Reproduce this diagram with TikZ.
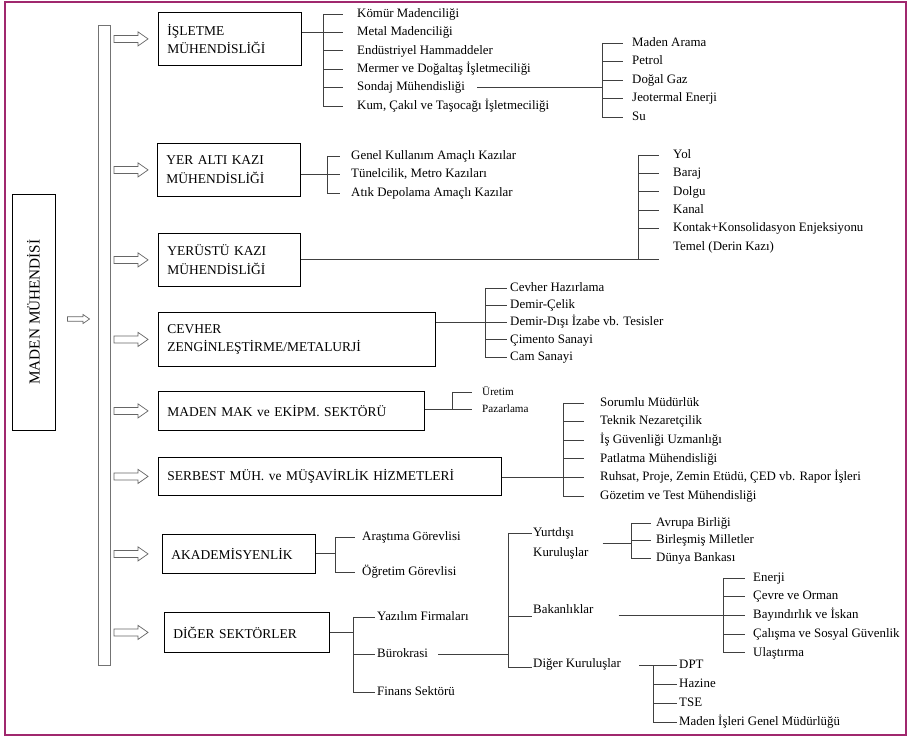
\documentclass[tikz,border=0pt]{standalone}
\usepackage{fontspec}
\setmainfont{Liberation Serif}
\usepackage{xcolor}
\usepackage{tikz}
\usetikzlibrary{positioning,calc}

\definecolor{framecol}{RGB}{160,40,110}
\tikzset{
  box/.style={draw=black, line width=0.7pt, inner xsep=0.27cm, align=left, anchor=north west, font=\fontsize{11.5}{16}\selectfont},
  item/.style={anchor=west, inner xsep=0pt, inner ysep=1pt, text height=8pt, text depth=2.5pt, font=\fontsize{11}{17}\selectfont},
  tree/.style={draw=black!75, line width=0.7pt},
  arrowline/.style={draw=black!60, fill=white, line width=0.6pt},
  pics/hollowarrow/.style={code={\draw[arrowline] (0,-3.5) -- (24,-3.5) -- (24,-7) -- (34,0) -- (24,7) -- (24,3.5) -- (0,3.5) -- cycle;}}
}

\begin{document}
\begin{tikzpicture}[x=0.03cm,y=-0.03cm]
\useasboundingbox (0,0) rectangle (911,739);
\draw[framecol, line width=1.8pt] (5,2) rectangle (906,735);

% Maden muhendisi
\node[draw, line width=0.7pt, rotate=90, minimum width=7.08cm, minimum height=1.29cm, font=\fontsize{13}{15}\selectfont] (maden) at (33.5,312) {MADEN MÜHENDİSİ};
\pic[scale=0.65] at ($(maden.south)+(12,7)$) {hollowarrow};
\node[draw=black!55, line width=0.9pt, minimum width=0.36cm, minimum height=19.2cm, anchor=north west, inner sep=0pt] (bar) at (98,25) {};

% Alanlar
\node[box, minimum width=4.29cm, minimum height=1.59cm, text width=3.75cm] (isletme) at (158,12) {İŞLETME\\MÜHENDİSLİĞİ};
\node[box, minimum width=4.29cm, minimum height=1.59cm, text width=3.75cm] (yeralti) at (157,143) {YER ALTI KAZI\\MÜHENDİSLİĞİ};
\node[box, minimum width=4.26cm, minimum height=1.59cm, text width=3.72cm] (yerustu) at (158,233) {YERÜSTÜ KAZI\\MÜHENDİSLİĞİ};
\node[box, minimum width=8.31cm, minimum height=1.62cm, text width=7.77cm] (cevher) at (158,312) {CEVHER\\ZENGİNLEŞTİRME/METALURJİ};
\node[box, minimum width=7.98cm, minimum height=1.17cm, text width=7.44cm] (makine) at (158,391) {MADEN MAK ve EKİPM. SEKTÖRÜ};
\node[box, minimum width=10.29cm, minimum height=1.14cm, text width=9.75cm] (serbest) at (158,457) {SERBEST MÜH. ve MÜŞAVİRLİK HİZMETLERİ};
\node[box, minimum width=4.59cm, minimum height=1.17cm, text width=4.05cm] (akademi) at (162,534) {AKADEMİSYENLİK};
\node[box, minimum width=4.95cm, minimum height=1.2cm, text width=4.41cm] (diger) at (164,612) {DİĞER SEKTÖRLER};
\foreach \b in {isletme,yeralti,yerustu,cevher,makine,serbest,akademi,diger}
    \pic at ($(bar.east |- \b.west)+(3,0)$) {hollowarrow};

% Isletme
\foreach \t [count=\i] in {Kömür Madenciliği, Metal Madenciliği, Endüstriyel Hammaddeler, Mermer ve Doğaltaş İşletmeciliği, Sondaj Mühendisliği, {Kum, Çakıl ve Taşocağı İşletmeciliği}}
    \node[item] (isl\i) at (357,{14+18.4*(\i-1)}) {\t};
\foreach \i in {1,...,6}
    \draw[tree] ($(isl\i.west)+(-34,0)$) -- ++(20,0);
\draw[tree] ($(isl1.west)+(-34,0)$) -- ($(isl6.west)+(-34,0)$);
\draw[tree] (isletme.east |- isl2.west) -- ($(isl2.west)+(-14,0)$);

% Sondaj
\foreach \t [count=\i] in {Maden Arama, Petrol, Doğal Gaz, Jeotermal Enerji, Su}
    \node[item] (son\i) at (632,{43+18.5*(\i-1)}) {\t};
\foreach \i in {1,...,5}
    \draw[tree] ($(son\i.west)+(-30,0)$) -- ++(21,0);
\draw[tree] ($(son1.west)+(-30,0)$) -- ($(son5.west)+(-30,0)$);
\draw[tree] ($(isl5.east)+(12,0)$) -- ($(isl5.east -| son1.west)+(-30,0)$);

% Yer alti
\foreach \t [count=\i] in {Genel Kullanım Amaçlı Kazılar, {Tünelcilik, Metro Kazıları}, Atık Depolama Amaçlı Kazılar}
    \node[item] (yer\i) at (351,{156+18.5*(\i-1)}) {\t};
\foreach \i in {1,2,3}
    \draw[tree] ($(yer\i.west)+(-24,0)$) -- ++(13,0);
\draw[tree] ($(yer1.west)+(-24,0)$) -- ($(yer3.west)+(-24,0)$);
\draw[tree] (yeralti.east |- yer2.west) -- ($(yer2.west)+(-11,0)$);

% Yerustu
\foreach \t [count=\i] in {Yol, Baraj, Dolgu, Kanal, Kontak+Konsolidasyon Enjeksiyonu, Temel (Derin Kazı)}
    \node[item] (yus\i) at (673,{155+18.4*(\i-1)}) {\t};
\foreach \i in {1,...,5}
    \draw[tree] ($(yus\i.west)+(-35,0)$) -- ++(21,0);
\draw[tree] ($(yus1.west)+(-35,0)$) -- ($(yerustu.east -| yus1.west)+(-35,0)$);
\draw[tree] (yerustu.east) -- ($(yerustu.east -| yus1.west)+(-14,0)$);

% Cevher
\foreach \t [count=\i] in {Cevher Hazırlama, Demir-Çelik, Demir-Dışı İzabe vb. Tesisler, Çimento Sanayi, Cam Sanayi}
    \node[item] (cev\i) at (510,{288+17.3*(\i-1)}) {\t};
\foreach \i in {1,...,5}
    \draw[tree] ($(cev\i.west)+(-25,0)$) -- ++(22,0);
\draw[tree] ($(cev1.west)+(-25,0)$) -- ($(cev5.west)+(-25,0)$);
\draw[tree] (cevher.east |- cev3.west) -- ($(cev3.west)+(-3,0)$);

% Makine
\node[item, font=\fontsize{9.5}{11}\selectfont] (mak1) at (482,392) {Üretim};
\node[item, font=\fontsize{9.5}{11}\selectfont] (mak2) at (482,409) {Pazarlama};
\foreach \i in {1,2}
    \draw[tree] ($(mak\i.west)+(-30,0)$) -- ++(20,0);
\draw[tree] ($(mak1.west)+(-30,0)$) -- ($(mak2.west)+(-30,0)$);
\draw[tree] (makine.east |- mak2.west) -- ($(mak2.west)+(-10,0)$);

% Serbest
\foreach \t [count=\i] in {Sorumlu Müdürlük, Teknik Nezaretçilik, İş Güvenliği Uzmanlığı, Patlatma Mühendisliği, {Ruhsat, Proje, Zemin Etüdü, ÇED vb. Rapor İşleri}, Gözetim ve Test Mühendisliği}
    \node[item] (srb\i) at (600,{403+18.6*(\i-1)}) {\t};
\foreach \i in {1,...,6}
    \draw[tree] ($(srb\i.west)+(-37,0)$) -- ++(21,0);
\draw[tree] ($(srb1.west)+(-37,0)$) -- ($(srb6.west)+(-37,0)$);
\draw[tree] (serbest.east |- srb5.west) -- ($(srb5.west)+(-16,0)$);

% Akademi
\node[item] (aka1) at (362,537) {Araştıma Görevlisi};
\node[item] (aka2) at (362,572) {Öğretim Görevlisi};
\foreach \i in {1,2}
    \draw[tree] ($(aka\i.west)+(-27,0)$) -- ++(20,0);
\draw[tree] ($(aka1.west)+(-27,0)$) -- ($(aka2.west)+(-27,0)$);
\draw[tree] (akademi.east) -- ($(akademi.east -| aka1.west)+(-27,0)$);

% Diger sektorler
\node[item] (dig1) at (377,617) {Yazılım Firmaları};
\node[item] (dig2) at (377,654) {Bürokrasi};
\node[item] (dig3) at (377,692) {Finans Sektörü};
\foreach \i in {1,2,3}
    \draw[tree] ($(dig\i.west)+(-24,0)$) -- ++(22,0);
\draw[tree] ($(dig1.west)+(-24,0)$) -- ($(dig3.west)+(-24,0)$);
\draw[tree] (diger.east) -- ($(diger.east -| dig1.west)+(-24,0)$);

% Burokrasi
\node[item, align=left, text height=, text depth=] (yurt) at (533,543) {Yurtdışı\\Kuruluşlar};
\node[item] (bak) at (533,610) {Bakanlıklar};
\node[item] (dku) at (533,664) {Diğer Kuruluşlar};
\draw[tree] ($(yurt.west)+(-25,-10)$) -- ++(24,0);
\draw[tree] ($(bak.west)+(-25,6)$) -- ++(24,0);
\draw[tree] ($(dku.west)+(-25,3)$) -- ++(24,0);
\draw[tree] ($(yurt.west)+(-25,-10)$) -- ($(dku.west)+(-25,3)$);
\draw[tree] ($(dig2.east)+(10,0)$) -- ($(dig2.east -| yurt.west)+(-25,0)$);

% Yurtdisi
\foreach \t [count=\i] in {Avrupa Birliği, Birleşmiş Milletler, Dünya Bankası}
    \node[item] (ydk\i) at (656,{523+17.5*(\i-1)}) {\t};
\foreach \i in {1,2,3}
    \draw[tree] ($(ydk\i.west)+(-25,0)$) -- ++(20,0);
\draw[tree] ($(ydk1.west)+(-25,0)$) -- ($(ydk3.west)+(-25,0)$);
\draw[tree] ($(yurt.east)+(14,0)$) -- ($(yurt.east -| ydk1.west)+(-25,0)$);

% Bakanliklar
\foreach \t [count=\i] in {Enerji, Çevre ve Orman, Bayındırlık ve İskan, Çalışma ve Sosyal Güvenlik, Ulaştırma}
    \node[item] (bk\i) at (753,{578+18.7*(\i-1)}) {\t};
\foreach \i in {1,...,5}
    \draw[tree] ($(bk\i.west)+(-30,0)$) -- ++(22,0);
\draw[tree] ($(bk1.west)+(-30,0)$) -- ($(bk5.west)+(-30,0)$);
\draw[tree, line width=1pt] ($(bak.east |- bk3.west)+(25,0)$) -- ($(bk3.west)+(-8,0)$);

% Diger kuruluslar
\foreach \t [count=\i] in {DPT, Hazine, TSE, Maden İşleri Genel Müdürlüğü}
    \node[item] (dpt\i) at (679,{665+19*(\i-1)}) {\t};
\foreach \i in {1,...,4}
    \draw[tree] ($(dpt\i.west)+(-26,0)$) -- ++(24,0);
\draw[tree] ($(dpt1.west)+(-26,0)$) -- ($(dpt4.west)+(-26,0)$);
\draw[tree] ($(dku.east |- dpt1.west)+(18,0)$) -- ($(dpt1.west)+(-2,0)$);
\end{tikzpicture}
\end{document}
